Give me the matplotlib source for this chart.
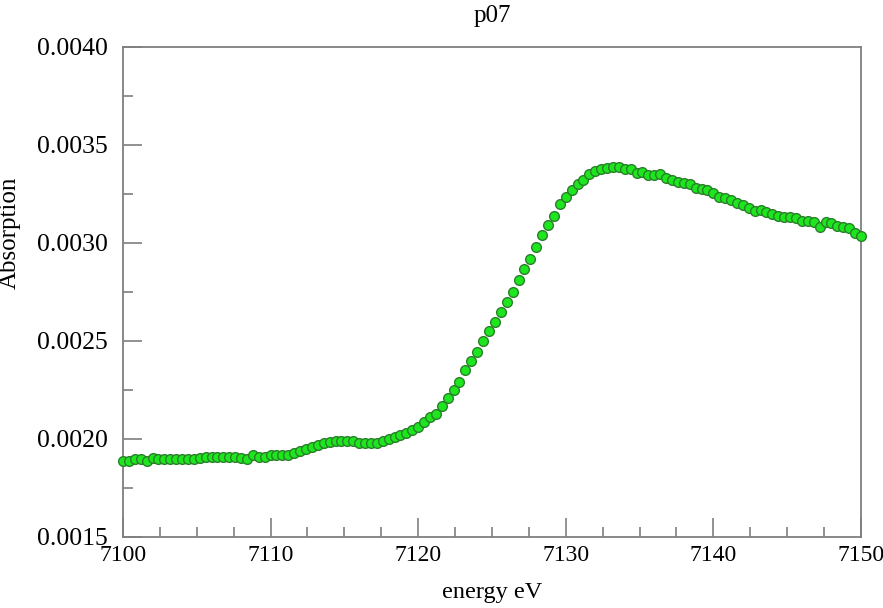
import matplotlib
matplotlib.use("Agg")
import matplotlib.pyplot as plt
from matplotlib.ticker import MultipleLocator, FormatStrFormatter

# energy grid (eV) and absorption
energy = [
    7100.0, 7100.4, 7100.8, 7101.2, 7101.6, 7102.0, 7102.4, 7102.8, 7103.2, 7103.6,
    7104.0, 7104.4, 7104.8, 7105.2, 7105.6, 7106.0, 7106.4, 7106.8, 7107.2, 7107.6,
    7108.0, 7108.4, 7108.8, 7109.2, 7109.6, 7110.0, 7110.4, 7110.8, 7111.2, 7111.6,
    7112.0, 7112.4, 7112.8, 7113.2, 7113.6, 7114.0, 7114.4, 7114.8, 7115.2, 7115.6,
    7116.0, 7116.4, 7116.8, 7117.2, 7117.6, 7118.0, 7118.4, 7118.8, 7119.2, 7119.6,
    7120.0, 7120.4, 7120.8, 7121.2, 7121.6, 7122.0, 7122.4, 7122.8, 7123.2, 7123.6,
    7124.0, 7124.4, 7124.8, 7125.2, 7125.6, 7126.0, 7126.4, 7126.8, 7127.2, 7127.6,
    7128.0, 7128.4, 7128.8, 7129.2, 7129.6, 7130.0, 7130.4, 7130.8, 7131.2, 7131.6,
    7132.0, 7132.4, 7132.8, 7133.2, 7133.6, 7134.0, 7134.4, 7134.8, 7135.2, 7135.6,
    7136.0, 7136.4, 7136.8, 7137.2, 7137.6, 7138.0, 7138.4, 7138.8, 7139.2, 7139.6,
    7140.0, 7140.4, 7140.8, 7141.2, 7141.6, 7142.0, 7142.4, 7142.8, 7143.2, 7143.6,
    7144.0, 7144.4, 7144.8, 7145.2, 7145.6, 7146.0, 7146.4, 7146.8, 7147.2, 7147.6,
    7148.0, 7148.4, 7148.8, 7149.2, 7149.6, 7150.0,
]

absorption = [
    0.001890, 0.001890, 0.001900, 0.001900, 0.001890, 0.001905, 0.001900, 0.001900, 0.001900, 0.001900,
    0.001900, 0.001900, 0.001900, 0.001905, 0.001910, 0.001910, 0.001910, 0.001910, 0.001910, 0.001910,
    0.001905, 0.001900, 0.001920, 0.001910, 0.001910, 0.001920, 0.001920, 0.001920, 0.001920, 0.001930,
    0.001940, 0.001950, 0.001960, 0.001970, 0.001980, 0.001985, 0.001990, 0.001990, 0.001990, 0.001990,
    0.001980, 0.001980, 0.001980, 0.001980, 0.001990, 0.002000, 0.002010, 0.002020, 0.002030, 0.002046,
    0.002063, 0.002085, 0.002110, 0.002130, 0.002170, 0.002210, 0.002250, 0.002290, 0.002350, 0.002400,
    0.002445, 0.002500, 0.002550, 0.002595, 0.002650, 0.002700, 0.002748, 0.002810, 0.002866, 0.002920,
    0.002980, 0.003040, 0.003090, 0.003140, 0.003200, 0.003235, 0.003270, 0.003300, 0.003320, 0.003350,
    0.003365, 0.003376, 0.003381, 0.003386, 0.003386, 0.003380, 0.003375, 0.003355, 0.003364, 0.003347,
    0.003347, 0.003350, 0.003330, 0.003320, 0.003312, 0.003305, 0.003303, 0.003280, 0.003274, 0.003272,
    0.003255, 0.003236, 0.003228, 0.003220, 0.003206, 0.003194, 0.003177, 0.003165, 0.003168, 0.003160,
    0.003150, 0.003140, 0.003134, 0.003131, 0.003128, 0.003114, 0.003112, 0.003108, 0.003083, 0.003109,
    0.003100, 0.003085, 0.003080, 0.003075, 0.003050, 0.003036,
]

AXIS_GREY = "#7f7f7f"

plt.rcParams["font.family"] = ["Liberation Serif", "DejaVu Serif"]

fig = plt.figure(figsize=(8.83, 6.08), dpi=100)
ax = fig.add_axes([0.1393, 0.1168, 0.8357, 0.8059])

ax.plot(energy, absorption, "o", markersize=7.0, markerfacecolor="#1ee61e",
        markeredgecolor="#2a7f2a", markeredgewidth=1.0, clip_on=False, zorder=3)

ax.set_xlim(7100, 7150)
ax.set_ylim(0.0015, 0.0040)
ax.xaxis.set_major_locator(MultipleLocator(10))
ax.xaxis.set_minor_locator(MultipleLocator(2.5))
ax.yaxis.set_major_locator(MultipleLocator(0.0005))
ax.yaxis.set_minor_locator(MultipleLocator(0.00025))
ax.yaxis.set_major_formatter(FormatStrFormatter("%.4f"))

for spine in ax.spines.values():
    spine.set_color(AXIS_GREY)
    spine.set_linewidth(1.3)

ax.tick_params(which="both", direction="in", top=False, right=False,
               color=AXIS_GREY, width=1.2)
ax.tick_params(which="major", length=14)
ax.tick_params(which="minor", length=7)
ax.tick_params(axis="y", which="major", pad=11, labelsize=18.5)
ax.tick_params(axis="x", which="major", pad=6, labelsize=17)

ax.set_title("p07", fontsize=18, pad=18)
ax.set_xlabel("energy eV", fontsize=17.5, labelpad=11)
ax.set_ylabel("Absorption", fontsize=18)
# the label sits a little above the middle of the axis in the original
ax.yaxis.set_label_coords(-0.138, 0.62)

fig.savefig("out.png", dpi=100, facecolor="white")
